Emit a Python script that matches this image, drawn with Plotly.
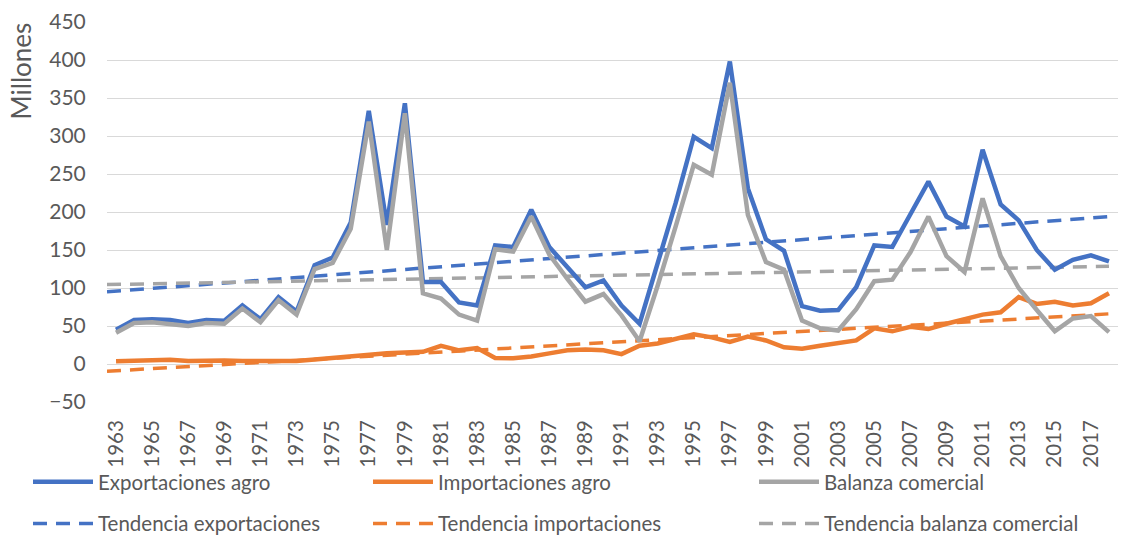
import plotly.graph_objects as go

years = list(range(1963, 2019))

exportaciones = [45, 58, 59, 58, 54, 58, 57, 77, 59, 88,
                 69, 130, 140, 186, 333, 183, 343, 108, 108, 81,
                 77, 156, 154, 203, 154, 128, 101, 110, 77, 53,
                 130, 212, 299, 284, 398, 231, 164, 149, 76, 70,
                 71, 101, 156, 154, 197, 240, 194, 181, 282, 210,
                 189, 150, 124, 137, 143, 135]

importaciones = [3.5, 4, 4.5, 5.5, 4, 4.5, 4.5, 4, 4, 4,
                 4, 6, 8, 10, 13, 14, 15, 16, 24, 18,
                 21, 8, 7.5, 10, 14, 18, 19, 18, 13, 24,
                 27, 33, 39, 35, 29, 36, 31, 22, 20, 24,
                 28, 31, 47, 43, 49, 46, 53, 59, 65, 68,
                 88, 79, 82, 77, 80, 93]

balanza = [41, 54, 55, 53, 50, 54, 53, 73, 55, 84,
           65, 125, 133, 178, 319, 150, 330, 93, 86, 65,
           57, 151, 148, 194, 144, 112, 82, 92, 64, 30,
           103, 181, 262, 249, 370, 196, 134, 124, 57, 47,
           44, 72, 109, 111, 147, 194, 142, 121, 218, 142,
           100, 71, 43, 60, 63, 42]

# trend lines (values read at left edge of plot and at 2018)
trend_x = [1962.5, 2018]
tend_export = [95, 194]
tend_import = [-9.5, 66]
tend_balanza = [104.5, 128.5]

tick_years = list(range(1963, 2018, 2))
y_ticks = list(range(-50, 451, 50))

BLUE = "#4472C4"
ORANGE = "#ED7D31"
GRAY = "#A5A5A5"
TXT = "#595959"
FONT = "Lato"

fig = go.Figure()

solid_w = 4.5
dash_w = 3.5
dash = "14px,9px"

fig.add_trace(go.Scatter(x=trend_x, y=tend_export, mode="lines", name="Tendencia exportaciones",
                         line=dict(color=BLUE, width=dash_w, dash=dash), legend="legend",
                         legendgroup="te", legendrank=2))
fig.add_trace(go.Scatter(x=trend_x, y=tend_import, mode="lines", name="Tendencia importaciones",
                         line=dict(color=ORANGE, width=dash_w, dash=dash), legend="legend2",
                         legendgroup="ti", legendrank=2))
fig.add_trace(go.Scatter(x=trend_x, y=tend_balanza, mode="lines", name="Tendencia balanza comercial",
                         line=dict(color=GRAY, width=dash_w, dash=dash), legend="legend3",
                         legendgroup="tb", legendrank=2))

fig.add_trace(go.Scatter(x=years, y=exportaciones, mode="lines", name="Exportaciones agro",
                         line=dict(color=BLUE, width=solid_w), legend="legend",
                         legendgroup="e", legendrank=1))
fig.add_trace(go.Scatter(x=years, y=importaciones, mode="lines", name="Importaciones agro",
                         line=dict(color=ORANGE, width=solid_w), legend="legend2",
                         legendgroup="i", legendrank=1))
fig.add_trace(go.Scatter(x=years, y=balanza, mode="lines", name="Balanza comercial",
                         line=dict(color=GRAY, width=solid_w), legend="legend3",
                         legendgroup="b", legendrank=1))

def leg(xpx):
    return dict(xref="container", yref="container", x=xpx / 1135, y=1 - 454 / 535,
                xanchor="left", yanchor="top", orientation="v",
                font=dict(family=FONT, size=20.5, color=TXT),
                bgcolor="rgba(0,0,0,0)", tracegroupgap=12, itemwidth=60,
                traceorder="grouped")

fig.update_layout(
    width=1135, height=535,
    margin=dict(l=99, r=25, t=14, b=141, autoexpand=False),
    paper_bgcolor="white", plot_bgcolor="white",
    font=dict(family=FONT, size=20, color=TXT),
    showlegend=True,
    legend=leg(20),
    legend2=leg(360),
    legend3=leg(746),
    xaxis=dict(range=[1962.5, 2018.5], tickmode="array", tickvals=tick_years,
               ticktext=[str(y) for y in tick_years], tickangle=-90,
               showgrid=False, zeroline=False, showline=False,
               ticks="outside", ticklen=9, tickcolor="rgba(0,0,0,0)",
               tickfont=dict(family=FONT, size=20.5, color=TXT),
               automargin=False),
    yaxis=dict(range=[-50, 450], tickmode="array", tickvals=y_ticks,
               showgrid=True, gridcolor="#D9D9D9", gridwidth=1.3, zeroline=False,
               showline=False, ticks="outside", ticklen=16, tickcolor="rgba(0,0,0,0)",
               tickfont=dict(family=FONT, size=21, color=TXT), automargin=False),
    annotations=[dict(text="Millones", xref="paper", yref="paper", x=0, y=0.87,
                      xanchor="center", yanchor="middle",
                      xshift=-86, textangle=-90, showarrow=False,
                      font=dict(family=FONT, size=26, color=TXT))],
)

fig.write_html("out.html")
